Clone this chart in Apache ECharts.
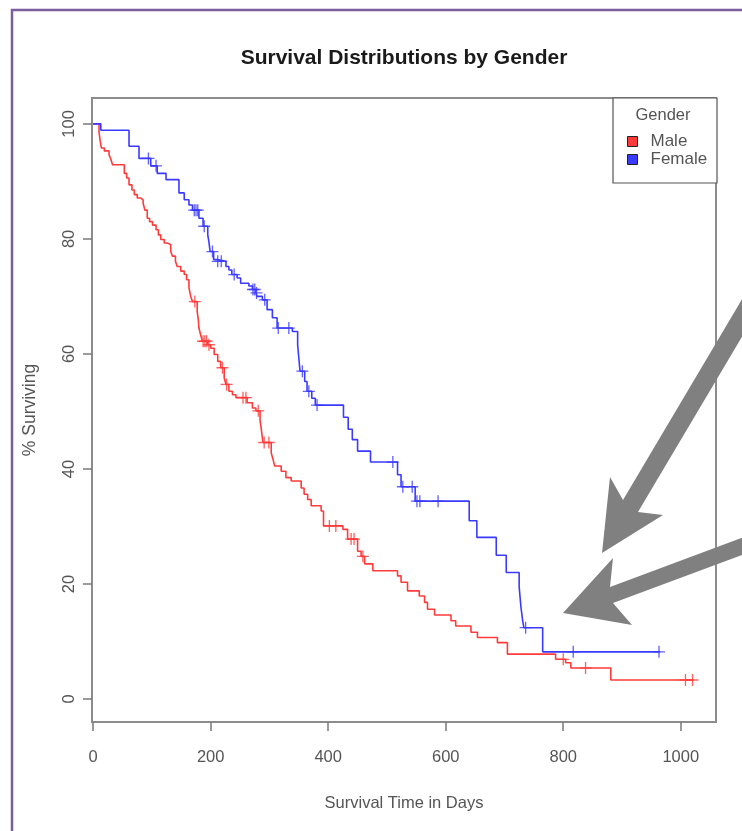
<!DOCTYPE html>
<html><head><meta charset="utf-8">
<script src="https://cdn.jsdelivr.net/npm/echarts@6/dist/echarts.min.js"></script>
<style>html,body{margin:0;padding:0;background:#fff}#c{width:742px;height:831px}</style>
</head><body><div id="c"></div>
<script>
// ---- data ----
const seriesNames = ['Male', 'Female'];
const maleTimes = [0,10,12,14,19,27,30,33,53,57,61,66,70,75,81,85,88,92,96,101,107,111,115,121,126,132,135,140,143,149,155,159,163,166,169,177,179,180,183,186,195,200,206,212,217,223,226,231,237,243,262,271,277,284,286,289,303,306,309,320,328,337,354,359,365,371,388,392,425,433,450,456,462,476,518,524,535,555,564,569,581,609,617,643,654,688,705,787,804,813,881];
const maleSurv = [100,98.5,97.0,95.8,95.3,94.6,93.9,92.9,91.4,90.6,89.4,88.5,87.7,87.1,86.8,86.2,85.0,83.6,83.0,82.4,81.6,80.7,79.9,79.3,79.0,77.8,77.0,76.1,75.2,74.4,73.8,72.9,71.5,70.0,69.1,67.4,65.9,64.5,63.3,62.2,61.6,61.0,59.9,58.7,57.6,55.8,54.7,53.5,52.9,52.4,51.5,50.6,50.1,48.5,47.0,44.6,42.8,41.7,40.5,39.6,38.5,37.9,36.7,35.6,34.7,33.6,32.7,30.1,29.5,27.8,25.7,24.8,23.5,22.3,21.4,20.3,18.8,17.9,16.8,15.6,14.6,13.6,12.7,11.6,10.7,9.8,7.8,6.9,6.3,5.4,3.3];
const maleEnd = 1022;
const maleCensor = [173,187,190,193,197,220,227,255,260,281,291,299,402,413,439,444,459,800,838,1008,1020];

const femaleTimes = [0,13,61,78,98,109,124,146,155,163,169,180,187,195,197,199,205,211,226,231,236,245,251,265,271,277,279,288,296,305,313,339,348,350,352,360,364,372,378,426,434,441,450,472,518,524,548,640,653,686,703,725,728,731,733,765];
const femaleSurv = [100,98.9,96.1,94.0,92.7,91.4,90.3,88.0,86.8,85.9,85.0,83.6,82.2,80.7,79.5,77.8,76.4,76.1,75.2,74.6,73.8,73.2,72.3,71.8,71.2,70.6,70.0,69.4,67.7,66.3,64.5,63.9,61.6,59.3,57.0,55.2,53.5,52.3,51.1,49.0,46.9,45.1,43.1,41.2,39.0,36.9,34.4,31.0,28.1,25.0,22.0,19.5,16.0,13.6,12.4,8.2];
const femaleEnd = 965;
const femaleCensor = [94,107,172,175,178,189,203,212,218,240,272,275,278,292,315,333,356,367,381,510,527,543,551,556,587,736,817,963];

const xTicks = [0,200,400,600,800,1000];
const yTicks = [0,20,40,60,80,100];

// ---- helpers ----
function stepData(times, surv, end) {
  const d = times.map((t, i) => [t, surv[i]]);
  d.push([end, surv[surv.length - 1]]);
  return d;
}
function censorPts(times, surv, cens) {
  return cens.map(c => {
    let s = surv[0];
    for (let i = 0; i < times.length; i++) if (times[i] <= c) s = surv[i];
    return [c, s];
  });
}

const FONT = "'Liberation Sans', Arial, sans-serif";
const RED = '#ff3a3a', BLUE = '#3a3aff';
const PLUS = 'path://M4.45,0H5.55V4.45H10V5.55H5.55V10H4.45V5.55H0V4.45H4.45Z';

const chart = echarts.init(document.getElementById('c'), null, {renderer: 'canvas'});
chart.setOption({
  animation: false,
  backgroundColor: '#fff',
  grid: {left: 92, right: 26, top: 98, bottom: 109, show: true, borderColor: '#8c8c8c', borderWidth: 2, containLabel: false},
  xAxis: {
    type: 'value', min: -2, max: 1060,
    axisLine: {show: false, onZero: false},
    axisTick: {show: true, customValues: xTicks, length: 9, lineStyle: {color: '#7a7a7a', width: 1.5}},
    axisLabel: {customValues: xTicks, margin: 27, fontSize: 16.5, fontFamily: FONT, color: '#555', formatter: v => String(v)},
    splitLine: {show: false},
    name: 'Survival Time in Days', nameLocation: 'middle', nameGap: 73,
    nameTextStyle: {fontSize: 16.5, fontFamily: FONT, color: '#555'}
  },
  yAxis: {
    type: 'value', min: -4, max: 104.5,
    axisLine: {show: false, onZero: false},
    axisTick: {show: true, customValues: yTicks, length: 9, lineStyle: {color: '#7a7a7a', width: 1.5}},
    axisLabel: {customValues: yTicks, rotate: 90, margin: 14, fontSize: 16.5, fontFamily: FONT, color: '#555'},
    splitLine: {show: false},
    name: '% Surviving', nameLocation: 'middle', nameGap: 53, nameRotate: 90,
    nameTextStyle: {fontSize: 17.5, fontFamily: FONT, color: '#555'}
  },
  legend: {
    data: [{name: seriesNames[0], icon: 'rect'}, {name: seriesNames[1], icon: 'rect'}],
    orient: 'vertical', left: 627, top: 133, padding: 0,
    itemWidth: 10, itemHeight: 10, itemGap: 1,
    itemStyle: {borderColor: '#222', borderWidth: 1},
    textStyle: {fontSize: 17, fontFamily: FONT, color: '#555', padding: [0, 0, 0, 8]},
    selectedMode: false, z: 6
  },
  series: [
    {name: seriesNames[0], type: 'line', step: 'end', showSymbol: false, color: RED,
     lineStyle: {color: RED, width: 1.6}, data: stepData(maleTimes, maleSurv, maleEnd), z: 3},
    {name: seriesNames[1], type: 'line', step: 'end', showSymbol: false, color: BLUE,
     lineStyle: {color: BLUE, width: 1.6}, data: stepData(femaleTimes, femaleSurv, femaleEnd), z: 3},
    {name: seriesNames[0], type: 'scatter', symbol: PLUS, symbolSize: 12, color: RED,
     itemStyle: {color: RED}, data: censorPts(maleTimes, maleSurv, maleCensor), z: 4},
    {name: seriesNames[1], type: 'scatter', symbol: PLUS, symbolSize: 12, color: BLUE,
     itemStyle: {color: BLUE}, data: censorPts(femaleTimes, femaleSurv, femaleCensor), z: 4}
  ],
  graphic: [
    {type: 'rect', z: 100, silent: true, shape: {x: 12, y: 10, width: 800, height: 900},
     style: {fill: 'none', stroke: '#7b5e9e', lineWidth: 2.5}},
    {type: 'text', z: 10, x: 404, y: 58, style: {text: 'Survival Distributions by Gender', fill: '#1a1a1a',
     font: "bold 21px " + FONT, textAlign: 'center', textVerticalAlign: 'middle'}},
    {type: 'rect', z: 5, shape: {x: 613, y: 98, width: 104, height: 85},
     style: {fill: '#fff', stroke: '#555', lineWidth: 1.2}},
    {type: 'text', z: 6, x: 663, y: 115, style: {text: 'Gender', fill: '#555',
     font: "16.5px " + FONT, textAlign: 'center', textVerticalAlign: 'middle'}},
    {type: 'polygon', z: 50, silent: true, shape: {points: [[602,553],[610,477],[623,500],[776,242],[791,254],[638,512],[663,515]]},
     style: {fill: '#808080'}},
    {type: 'polygon', z: 50, silent: true, shape: {points: [[563,613],[613,558],[610,587],[798,517],[801,533],[613,603],[632,625]]},
     style: {fill: '#808080'}}
  ]
});
</script></body></html>
